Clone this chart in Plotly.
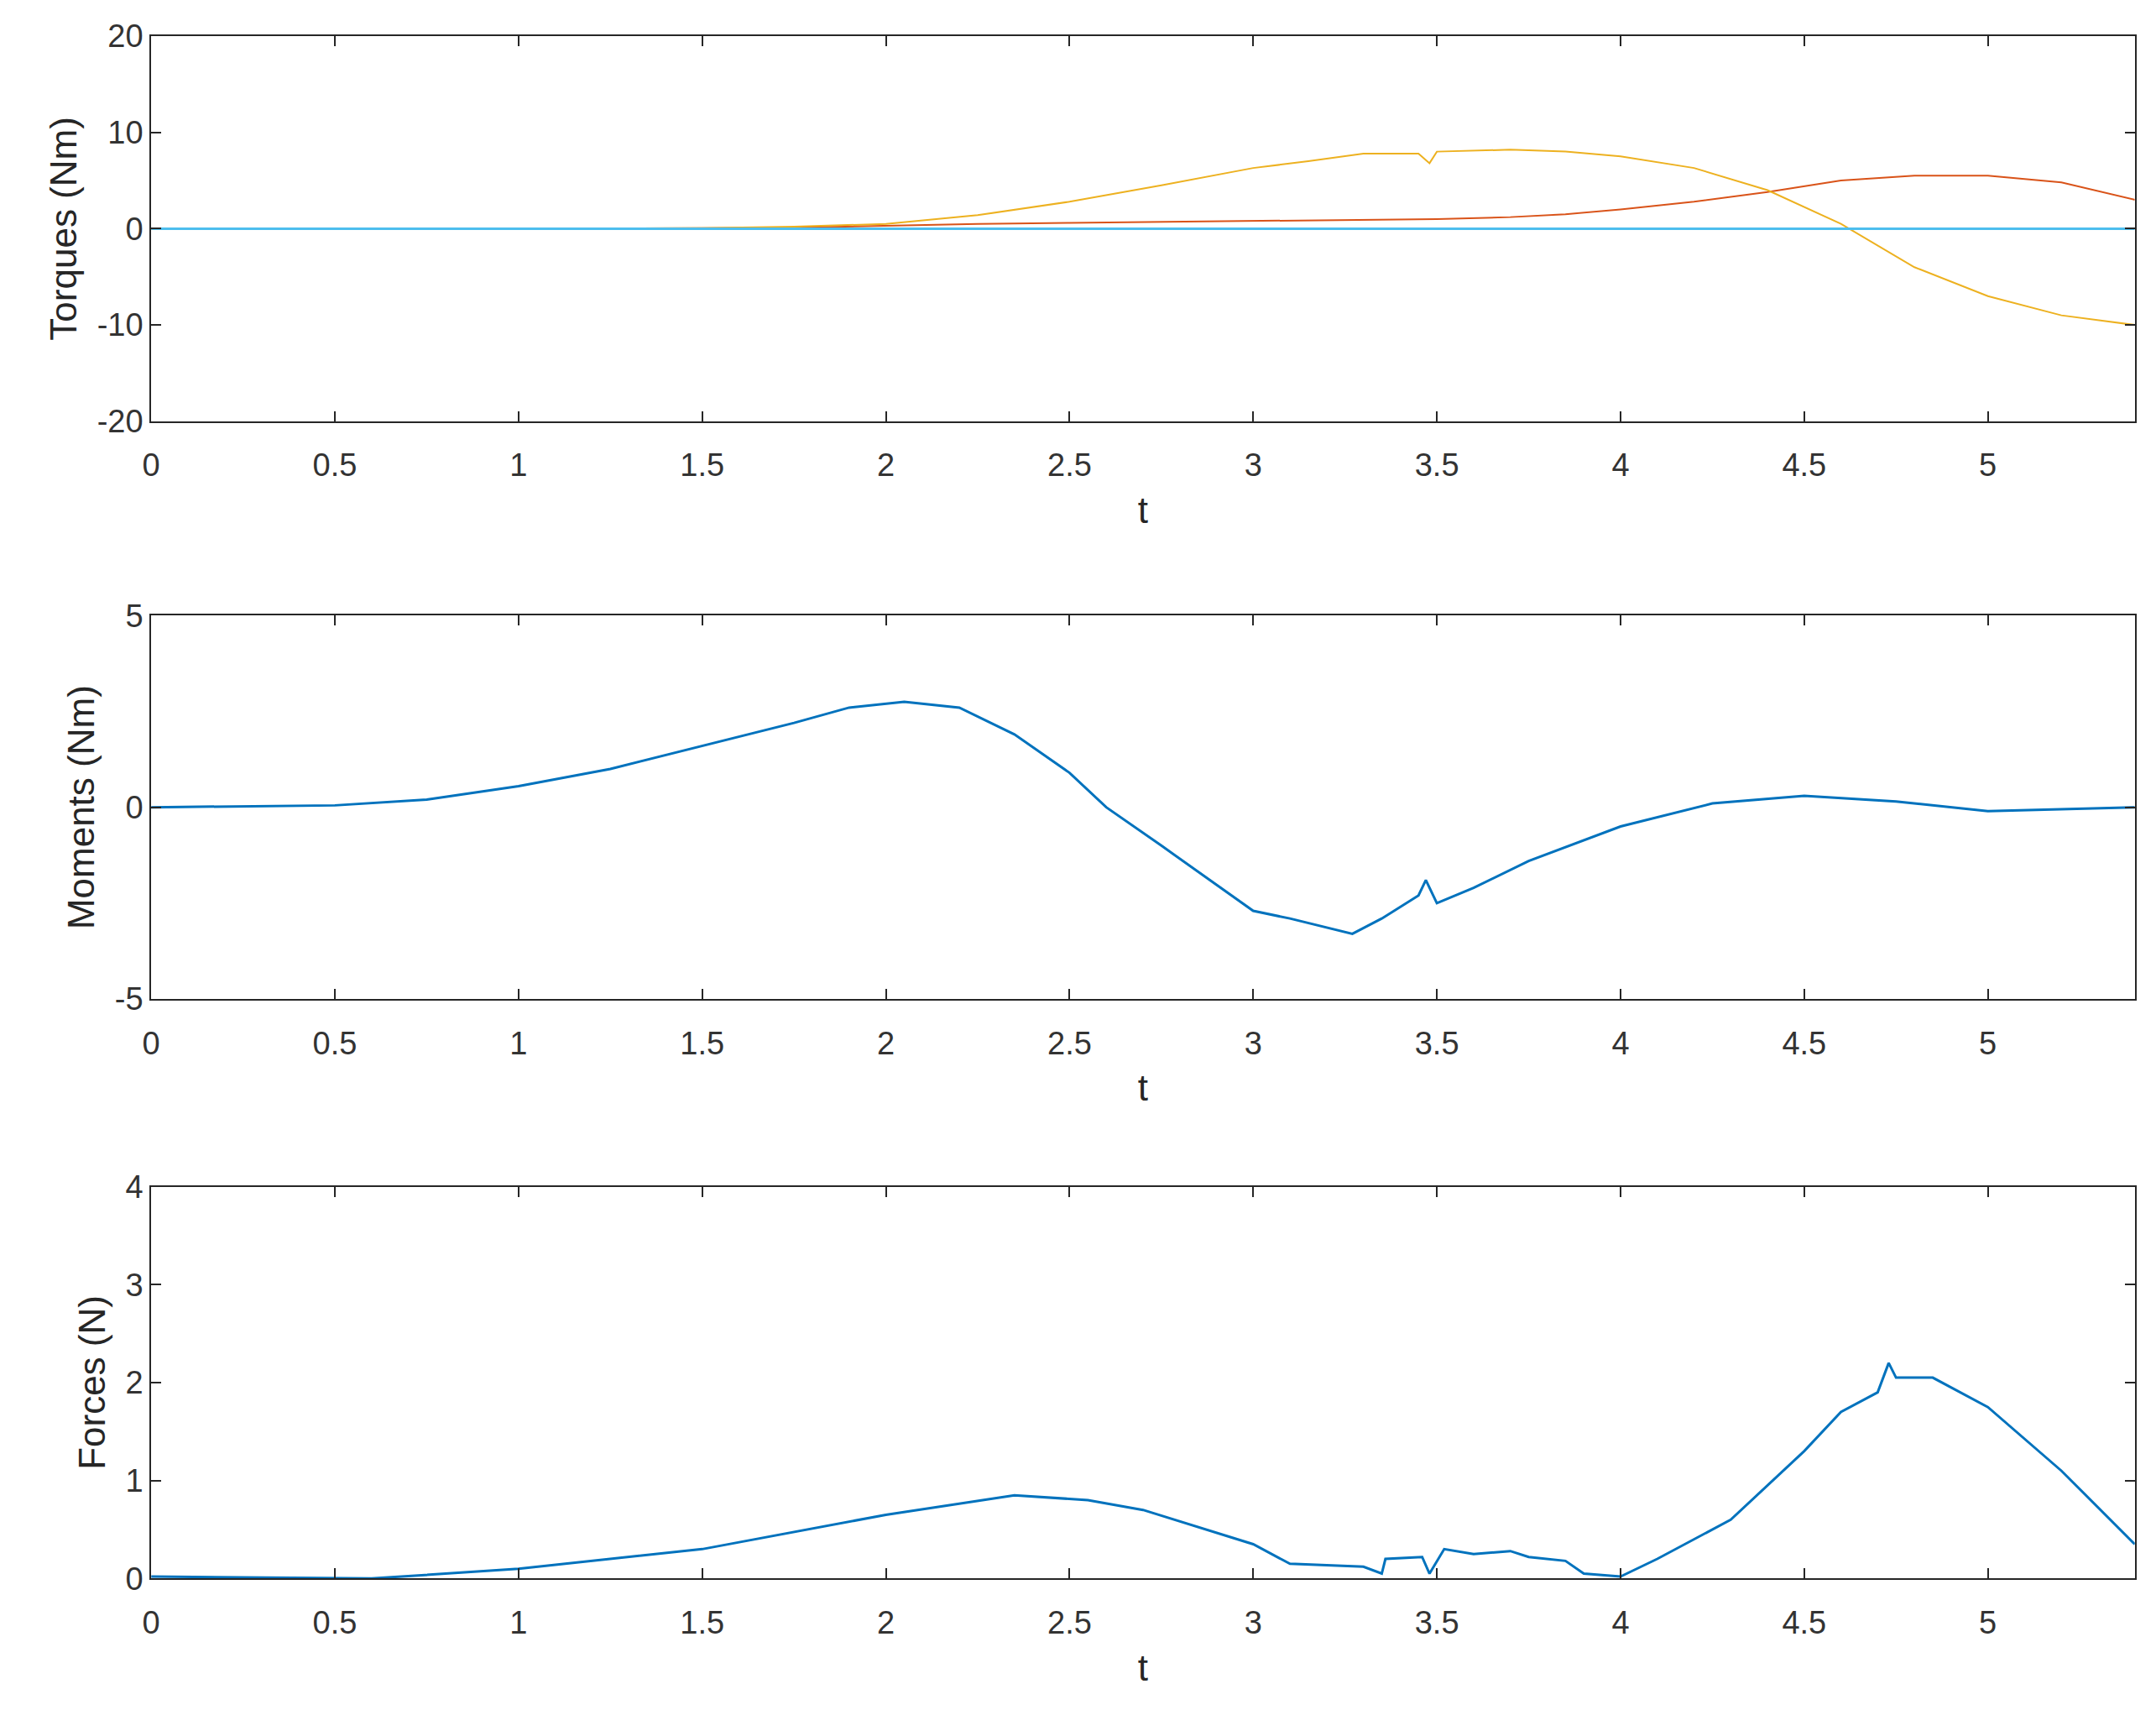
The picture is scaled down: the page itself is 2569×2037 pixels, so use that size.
import plotly.graph_objects as go
from plotly.subplots import make_subplots

# Torques panel
t_torque = [0, 0.5, 1.0, 1.5, 1.75, 2.0, 2.25, 2.5, 2.75, 3.0, 3.15, 3.3, 3.45, 3.48, 3.5,
            3.7, 3.85, 4.0, 4.2, 4.4, 4.6, 4.8, 5.0, 5.2, 5.4]
torque_yellow = [0, 0, 0, 0.05, 0.2, 0.5, 1.4, 2.8, 4.5, 6.3, 7.0, 7.8, 7.8, 6.8, 8.0,
                 8.2, 8.0, 7.5, 6.3, 4.0, 0.5, -4.0, -7.0, -9.0, -10.0]
torque_red = [0, 0, 0, 0.05, 0.1, 0.3, 0.5, 0.6, 0.7, 0.8, 0.85, 0.9, 0.95, 0.95, 1.0,
              1.2, 1.5, 2.0, 2.8, 3.8, 5.0, 5.5, 5.5, 4.8, 3.0]
torque_blue = [0] * len(t_torque)

# Moments panel
t_moment = [0, 0.5, 0.75, 1.0, 1.25, 1.5, 1.75, 1.9, 2.05, 2.2, 2.35, 2.5, 2.6, 2.75, 3.0,
            3.1, 3.27, 3.35, 3.45, 3.47, 3.5, 3.6, 3.75, 4.0, 4.25, 4.5, 4.75, 5.0, 5.4]
moments = [0, 0.05, 0.2, 0.55, 1.0, 1.6, 2.2, 2.6, 2.75, 2.6, 1.9, 0.9, 0.0, -1.0, -2.7,
           -2.9, -3.3, -2.9, -2.3, -1.9, -2.5, -2.1, -1.4, -0.5, 0.1, 0.3, 0.15, -0.1, 0.0]

# Forces panel
t_force = [0, 0.6, 1.0, 1.5, 2.0, 2.35, 2.55, 2.7, 3.0, 3.1, 3.3, 3.35, 3.36, 3.46, 3.48,
           3.52, 3.6, 3.7, 3.75, 3.85, 3.9, 4.0, 4.1, 4.3, 4.5, 4.6, 4.7, 4.73, 4.75,
           4.85, 5.0, 5.2, 5.4]
forces = [0.02, 0.0, 0.1, 0.3, 0.65, 0.85, 0.8, 0.7, 0.35, 0.15, 0.12, 0.05, 0.2, 0.22, 0.05,
          0.3, 0.25, 0.28, 0.22, 0.18, 0.05, 0.02, 0.2, 0.6, 1.3, 1.7, 1.9, 2.2, 2.05,
          2.05, 1.75, 1.1, 0.35]

x_ticks = [0, 0.5, 1, 1.5, 2, 2.5, 3, 3.5, 4, 4.5, 5]
y_ticks = [[-20, -10, 0, 10, 20], [-5, 0, 5], [0, 1, 2, 3, 4]]
ytitles = ["Torques (Nm)", "Moments (Nm)", "Forces (N)"]

fig = make_subplots(rows=3, cols=1)
fig.add_trace(go.Scatter(x=t_torque, y=torque_red, line=dict(color="#D95319", width=2)), 1, 1)
fig.add_trace(go.Scatter(x=t_torque, y=torque_yellow, line=dict(color="#EDB120", width=2)), 1, 1)
fig.add_trace(go.Scatter(x=t_torque, y=torque_blue, line=dict(color="#4DBEEE", width=3)), 1, 1)
fig.add_trace(go.Scatter(x=t_moment, y=moments, line=dict(color="#0072BD", width=3)), 2, 1)
fig.add_trace(go.Scatter(x=t_force, y=forces, line=dict(color="#0072BD", width=3)), 3, 1)

domains = [(0.763, 0.993), (0.418, 0.647), (0.072, 0.306)]
font = dict(family="Liberation Sans", size=38, color="#333333")
axis_style = dict(showline=True, linecolor="#262626", linewidth=2, mirror="ticks",
                  ticks="inside", ticklen=12, tickwidth=2, tickcolor="#262626",
                  showgrid=False, zeroline=False, tickfont=font)
for i in range(3):
    yt = y_ticks[i]
    fig.update_xaxes(row=i + 1, col=1, range=[0, 5.4], tickvals=x_ticks,
                     domain=[0.063, 0.987], ticklabelstandoff=18,
                     title=dict(text="t", font=dict(family="Liberation Sans", size=44, color="#262626"),
                                standoff=18),
                     **axis_style)
    fig.update_yaxes(row=i + 1, col=1, range=[yt[0], yt[-1]], tickvals=yt,
                     ticktext=[str(v) for v in yt], domain=list(domains[i]),
                     title=dict(text=ytitles[i], font=dict(family="Liberation Sans", size=44, color="#262626"),
                                standoff=10),
                     **axis_style)

fig.update_layout(width=2569, height=2037, showlegend=False,
                  paper_bgcolor="white", plot_bgcolor="white",
                  margin=dict(l=0, r=0, t=0, b=0))
fig.write_html("out.html")
